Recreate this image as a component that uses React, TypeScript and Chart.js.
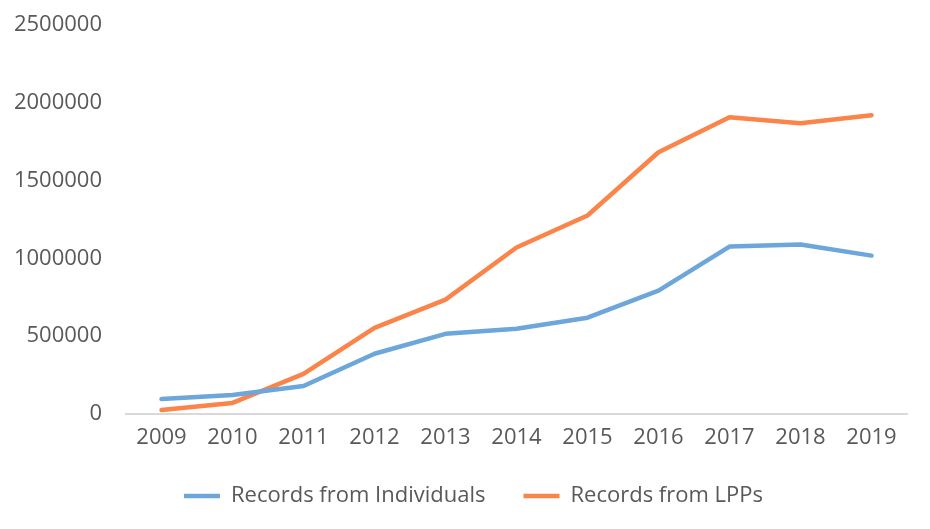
import React, { useEffect, useRef } from "react";
import { Chart, registerables } from "chart.js";

Chart.register(...registerables);

const years = ["2009", "2010", "2011", "2012", "2013", "2014", "2015", "2016", "2017", "2018", "2019"];
const individuals = [96000, 122000, 180000, 387000, 515000, 548000, 619000, 793000, 1076000, 1089000, 1018000];
const lpps = [26000, 71000, 258000, 554000, 735000, 1070000, 1276000, 1682000, 1907000, 1869000, 1920000];
const seriesNames = ["Records from Individuals", "Records from LPPs"];

const BLUE = "#6CA6DA";
const ORANGE = "#FA8449";
const TEXT = "#595959";
const FONT = "'Open Sans', Lato, sans-serif";

const shiftLegend = {
  id: "shiftLegend",
  afterLayout(chart: any) {
    if (chart.legend) {
      chart.legend.left += 20;
      chart.legend.right += 20;
    }
  },
};

export default function App() {
  const ref = useRef<HTMLCanvasElement | null>(null);
  useEffect(() => {
    document.body.style.margin = "0";
    const ctx = ref.current!;
    const chart = new Chart(ctx, {
      type: "line",
      data: {
        labels: years,
        datasets: [
          {
            label: seriesNames[0],
            data: individuals,
            borderColor: BLUE,
            backgroundColor: BLUE,
            borderWidth: 4.5,
            borderCapStyle: "round",
            borderJoinStyle: "round",
            pointRadius: 0,
            tension: 0,
          },
          {
            label: seriesNames[1],
            data: lpps,
            borderColor: ORANGE,
            backgroundColor: ORANGE,
            borderWidth: 4.5,
            borderCapStyle: "round",
            borderJoinStyle: "round",
            pointRadius: 0,
            tension: 0,
          },
        ],
      },
      plugins: [shiftLegend],
      options: {
        animation: false,
        responsive: false,
        maintainAspectRatio: false,
        layout: { padding: { top: 25, right: 23, left: 0, bottom: 12 } },
        plugins: {
          tooltip: { enabled: false },
          legend: {
            position: "bottom",
            labels: {
              usePointStyle: true,
              pointStyle: "line",
              pointStyleWidth: 36,
              color: TEXT,
              font: { family: FONT, size: 22 },
              padding: 38,
            },
          },
        },
        scales: {
          x: {
            offset: true,
            grid: { display: false, drawTicks: false },
            border: { display: true, color: "#D9D9D9", width: 2 },
            ticks: { color: TEXT, font: { family: FONT, size: 22 }, padding: 11, maxRotation: 0 },
            afterFit: (s: any) => { s.height = 33; s.paddingLeft = 0; s.paddingRight = 0; },
          },
          y: {
            min: 0,
            max: 2500000,
            grid: { display: false, drawTicks: false },
            border: { display: false },
            ticks: {
              stepSize: 500000,
              color: TEXT,
              font: { family: FONT, size: 22 },
              padding: 24,
              callback: (v: any) => String(v),
            },
            afterFit: (s: any) => { s.width = 126; s.paddingTop = 0; s.paddingBottom = 0; },
          },
        },
      },
    });
    return () => chart.destroy();
  }, []);
  return (
    <div style={{ width: 930, height: 529, position: "relative" }}>
      <canvas ref={ref} width={930} height={529} style={{ width: 930, height: 529 }} />
    </div>
  );
}
